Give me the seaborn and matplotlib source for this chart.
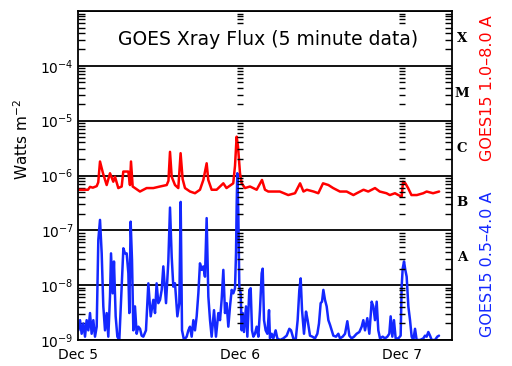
import matplotlib
matplotlib.use("Agg")
import matplotlib.pyplot as plt
import matplotlib.ticker as mticker
import matplotlib.transforms as mtransforms
import pandas as pd
import seaborn as sns

# x positions are hours since Dec 5 00:00 UT
day_hours = [0, 24, 48]
day_labels = ["Dec 5", "Dec 6", "Dec 7"]

ytick_values = [1e-9, 1e-8, 1e-7, 1e-6, 1e-5, 1e-4, 1e-3]
ytick_labels = ["$10^{-9}$", "$10^{-8}$", "$10^{-7}$", "$10^{-6}$",
                "$10^{-5}$", "$10^{-4}$", ""]

class_letters = ["A", "B", "C", "M", "X"]
class_levels = [10**-7.5, 10**-6.5, 10**-5.5, 10**-4.5, 10**-3.5]

# GOES15 1.0-8.0 A (long channel)
red_hours = [0.0, 1.48, 1.78, 2.2, 2.77, 3.0, 3.26, 3.7, 4.25, 4.74,
             5.23, 5.48, 5.97, 6.47, 6.71, 7.45, 7.7, 7.85, 8.1, 8.44,
             9.18, 10.17, 11.16, 12.15, 13.14, 13.4, 13.63, 13.88, 14.37, 14.86,
             15.2, 15.5, 15.85, 16.6, 17.33, 18.07, 18.57, 19.06, 19.3, 19.8,
             20.54, 21.53, 22.0, 23.0, 23.26, 23.5, 23.7, 24.0, 24.25, 24.74,
             25.48, 26.47, 27.26, 27.7, 28.19, 28.93, 29.9, 31.15, 32.15, 32.9,
             33.4, 33.9, 34.9, 35.6, 36.3, 37.1, 37.8, 38.8, 39.8, 40.8,
             41.3, 42.3, 43.0, 44.0, 44.7, 45.7, 46.2, 46.96, 47.45, 47.95,
             48.15, 48.5, 48.9, 49.4, 50.2, 51.15, 51.65, 52.6, 53.5]
red_flux = [5.5e-7, 5.5e-7, 6.2e-7, 6.0e-7, 6.4e-7, 7.5e-7, 1.8e-6, 1.1e-6, 6.7e-7, 1.1e-6,
            7.7e-7, 9.5e-7, 5.9e-7, 6.3e-7, 1.18e-6, 1.18e-6, 6.7e-7, 1.8e-6, 6.3e-7, 5.9e-7,
            5.1e-7, 5.9e-7, 5.9e-7, 6.3e-7, 6.7e-7, 8.0e-7, 2.7e-6, 9.5e-7, 6.7e-7, 5.9e-7,
            2.55e-6, 8.6e-7, 5.9e-7, 5.1e-7, 4.75e-7, 5.5e-7, 8.3e-7, 1.67e-6, 8.3e-7, 5.5e-7,
            5.5e-7, 7.2e-7, 5.9e-7, 7.2e-7, 1.5e-6, 5.1e-6, 3.4e-6, 1.1e-6, 7.2e-7, 5.9e-7,
            6.3e-7, 5.5e-7, 8.3e-7, 5.5e-7, 5.1e-7, 5.1e-7, 5.1e-7, 4.4e-7, 4.75e-7, 7.2e-7,
            5.1e-7, 5.5e-7, 5.1e-7, 4.75e-7, 7.2e-7, 6.7e-7, 5.9e-7, 5.1e-7, 5.1e-7, 4.4e-7,
            4.75e-7, 5.5e-7, 5.1e-7, 5.9e-7, 5.1e-7, 4.75e-7, 4.4e-7, 4.75e-7, 4.4e-7, 4.1e-7,
            7.7e-7, 7.2e-7, 5.9e-7, 4.4e-7, 4.4e-7, 4.75e-7, 5.1e-7, 4.75e-7, 5.1e-7]

# GOES15 0.5-4.0 A (short channel)
blue_hours = [0.05, 0.30, 0.54, 0.79, 1.04, 1.28, 1.53, 1.78,
              2.02, 2.27, 2.52, 2.77, 3.01, 3.26, 3.51, 3.75,
              4.00, 4.25, 4.49, 4.74, 4.89, 5.14, 5.33, 5.58,
              5.83, 6.12, 6.47, 6.72, 6.96, 7.21, 7.46, 7.60,
              7.80, 8.00, 8.20, 8.44, 8.69, 8.94, 9.19, 9.43,
              9.68, 10.07, 10.42, 10.77, 11.16, 11.41, 11.65, 11.90,
              12.15, 12.40, 12.64, 13.04, 13.38, 13.63, 13.88, 14.12,
              14.37, 14.72, 15.01, 15.21, 15.41, 15.70, 16.10, 16.35,
              16.59, 16.84, 17.09, 17.33, 17.58, 17.83, 18.07, 18.32,
              18.57, 18.81, 19.06, 19.31, 19.56, 19.80, 20.15, 20.44,
              20.79, 21.04, 21.28, 21.53, 21.78, 22.02, 22.27, 22.52,
              22.77, 23.01, 23.26, 23.41, 23.51, 23.60, 23.75, 23.90,
              24.10, 24.25, 24.40, 24.59, 24.89, 25.09, 25.38, 25.58,
              25.78, 25.98, 26.22, 26.47, 26.72, 26.96, 27.21, 27.36,
              27.56, 27.80, 28.05, 28.30, 28.44, 28.69, 28.94, 29.28,
              29.53, 29.93, 30.42, 30.91, 31.31, 31.56, 31.90, 32.25,
              32.54, 32.79, 32.99, 33.19, 33.48, 33.78, 34.02, 34.37,
              34.72, 35.11, 35.46, 35.70, 35.95, 36.15, 36.35, 36.59,
              36.84, 37.09, 37.33, 37.58, 37.83, 38.22, 38.57, 38.81,
              39.21, 39.56, 39.90, 40.20, 40.54, 40.89, 41.28, 41.68,
              42.03, 42.27, 42.52, 42.86, 43.16, 43.51, 43.75, 44.00,
              44.25, 44.49, 44.74, 45.14, 45.48, 45.83, 46.12, 46.32,
              46.57, 46.81, 47.06, 47.46, 47.80, 47.95, 48.10, 48.30,
              48.49, 48.69, 48.94, 49.19, 49.43, 49.68, 49.93, 50.17,
              50.67, 51.16, 51.41, 51.65, 51.90, 52.15, 52.40, 52.89,
              53.23, 53.48]
blue_flux = [1.5e-9, 2.3e-9, 1.3e-9, 2.0e-9, 1.15e-9, 2.3e-9, 1.5e-9, 3.1e-9,
             1.3e-9, 2.3e-9, 1.15e-9, 1.75e-9, 6.7e-8, 1.55e-7, 3.8e-8, 4.1e-9,
             1.5e-9, 3.1e-9, 1.15e-9, 6.2e-9, 3.8e-8, 7.1e-9, 2.7e-8, 2.7e-9,
             1.15e-9, 1.0e-9, 9.4e-9, 4.7e-8, 3.8e-8, 3.8e-8, 1.65e-8, 3.1e-9,
             1.44e-7, 2.9e-8, 1.5e-9, 4.1e-9, 1.3e-9, 1.75e-9, 1.6e-9, 1.2e-9,
             1.15e-9, 1.5e-9, 1.08e-8, 2.7e-9, 5.4e-9, 3.1e-9, 1.08e-8, 4.7e-9,
             5.4e-9, 8.2e-9, 2.2e-8, 4.7e-9, 2.7e-8, 2.6e-7, 3.3e-8, 9.4e-9,
             1.08e-8, 2.7e-9, 4.7e-9, 3.3e-7, 1.5e-9, 1.0e-9, 1.15e-9, 1.5e-9,
             1.75e-9, 1.15e-9, 2.3e-9, 1.5e-9, 2.7e-9, 7.1e-9, 2.5e-8, 1.9e-8,
             2.2e-8, 1.43e-8, 1.67e-7, 6.2e-9, 2.3e-9, 1.15e-9, 3.5e-9, 1.15e-9,
             3.1e-9, 2.3e-9, 5.4e-9, 1.9e-8, 3.1e-9, 4.7e-9, 1.75e-9, 4.1e-9,
             8.2e-9, 7.1e-9, 8.8e-9, 3.8e-8, 3.1e-7, 1.1e-6, 2.0e-7, 9.4e-9,
             7.1e-9, 1.5e-9, 3.1e-9, 1.4e-9, 4.1e-9, 1.15e-9, 8.2e-9, 8.8e-9,
             1.5e-9, 1.15e-9, 1.3e-9, 1.75e-9, 1.15e-9, 3.5e-9, 1.65e-8, 2.0e-8,
             2.3e-9, 1.5e-9, 1.3e-9, 3.5e-9, 1.07e-9, 1.3e-9, 1.07e-9, 1.5e-9,
             1.07e-9, 1.0e-9, 1.07e-9, 1.2e-9, 1.6e-9, 1.5e-9, 1.07e-9, 1.0e-9,
             2.3e-9, 8.2e-9, 1.33e-8, 3.5e-9, 1.3e-9, 3.3e-9, 2.3e-9, 1.2e-9,
             1.15e-9, 1.07e-9, 1.3e-9, 2.0e-9, 4.7e-9, 5.0e-9, 8.2e-9, 5.4e-9,
             4.1e-9, 2.3e-9, 1.9e-9, 1.5e-9, 1.2e-9, 1.15e-9, 1.3e-9, 1.07e-9,
             1.15e-9, 1.3e-9, 2.2e-9, 1.2e-9, 1.07e-9, 1.15e-9, 1.3e-9, 1.4e-9,
             1.75e-9, 2.3e-9, 1.5e-9, 2.5e-9, 1.3e-9, 5.0e-9, 4.1e-9, 2.3e-9,
             5.0e-9, 1.5e-9, 1.07e-9, 1.15e-9, 1.07e-9, 1.15e-9, 1.3e-9, 2.7e-9,
             1.15e-9, 2.3e-9, 1.07e-9, 1.07e-9, 1.2e-9, 9.4e-9, 2.0e-8, 2.7e-8,
             1.9e-8, 1.43e-8, 4.1e-9, 2.3e-9, 1.15e-9, 1.0e-9, 1.6e-9, 1.0e-9,
             1.0e-9, 1.07e-9, 1.2e-9, 1.15e-9, 1.4e-9, 1.2e-9, 1.0e-9, 1.0e-9,
             1.15e-9, 1.2e-9]

RED = "#ff0000"
BLUE = "#1428ff"

sns.set_style("white")
plt.rcParams["font.family"] = ["DejaVu Sans"]
plt.rcParams["text.color"] = "black"
plt.rcParams["axes.labelcolor"] = "black"
plt.rcParams["xtick.color"] = "black"
plt.rcParams["ytick.color"] = "black"

fig = plt.figure(figsize=(5.12, 3.66), dpi=100)
ax = fig.add_axes([78 / 512, 26 / 366, 374 / 512, 329 / 366])
ax.set_yscale("log")

blue_df = pd.DataFrame({"hour": blue_hours, "flux": blue_flux})
red_df = pd.DataFrame({"hour": red_hours, "flux": red_flux})
sns.lineplot(data=blue_df, x="hour", y="flux", color=BLUE, lw=1.8,
             estimator=None, ax=ax)
sns.lineplot(data=red_df, x="hour", y="flux", color=RED, lw=1.8,
             estimator=None, ax=ax)

ax.set_xlim(0, 374 / 162 * 24)
ax.set_ylim(1e-9, 1e-3)

# y axis: decades as grid lines, minor ticks inward on both sides
ax.yaxis.set_major_locator(mticker.FixedLocator(ytick_values))
ax.yaxis.set_major_formatter(mticker.FixedFormatter(ytick_labels))
ax.yaxis.set_minor_locator(mticker.LogLocator(base=10, subs=range(2, 10), numticks=20))
ax.yaxis.set_minor_formatter(mticker.NullFormatter())
ax.grid(axis="y", which="major", color="black", lw=1.3)
ax.tick_params(axis="y", which="major", length=0, pad=3, labelsize=10, colors="black")
ax.tick_params(axis="y", which="minor", left=True, right=True,
               direction="in", length=5, width=1, color="black")

ax.set_xticks(day_hours)
ax.set_xticklabels(day_labels)
ax.tick_params(axis="x", length=0, pad=6, labelsize=10, colors="black")
ax.set_xlabel("")
ax.set_ylabel("")

for side in ax.spines.values():
    side.set_color("black")
    side.set_linewidth(1.3)

# tick columns at the day boundaries
minor_levels = [m * 10.0**e for e in range(-9, -3) for m in range(2, 10)]
for d in day_hours[1:]:
    ax.plot([d] * len(minor_levels), minor_levels, ls="none", marker="_",
            ms=5, mew=1, color="black")

# flare class letters
trans = mtransforms.blended_transform_factory(ax.transAxes, ax.transData)
for letter, level in zip(class_letters, class_levels):
    ax.text(1.027, level, letter, transform=trans, ha="center", va="center",
            fontsize=9.5, fontweight="bold", family="DejaVu Serif")

ax.text(0.507, 0.912, "GOES Xray Flux (5 minute data)", transform=ax.transAxes,
        ha="center", va="center", fontsize=13.5, zorder=5,
        bbox=dict(facecolor="white", edgecolor="none", pad=4))
fig.text(22 / 512, 1 - 140 / 366, "Watts m$^{-2}$", rotation=90,
         ha="center", va="center", fontsize=11)
fig.text(487 / 512, 1 - 88 / 366, "GOES15 1.0\u20138.0 A", rotation=90,
         ha="center", va="center", fontsize=11.5, color=RED)
fig.text(487 / 512, 1 - 264 / 366, "GOES15 0.5\u20134.0 A", rotation=90,
         ha="center", va="center", fontsize=11.5, color=BLUE)

fig.savefig("out.png", dpi=100)
